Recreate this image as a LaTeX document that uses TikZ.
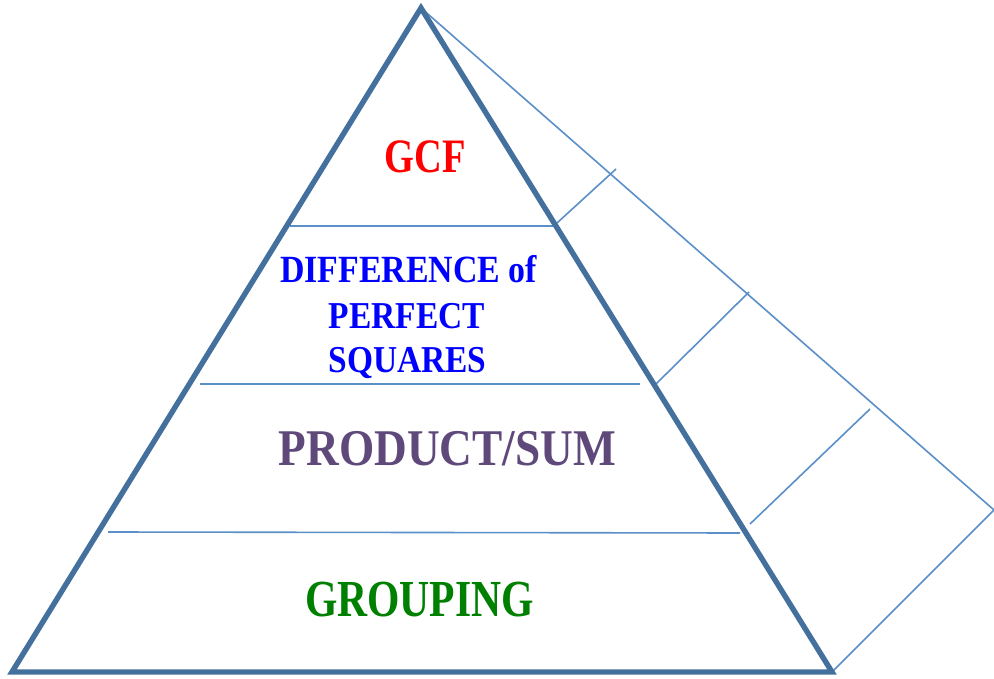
\documentclass[tikz,border=0pt]{standalone}
\usepackage{fontspec}
\newfontfamily\labfont[FakeStretch=0.88]{Liberation Serif}
\newfontfamily\labfontc[FakeStretch=0.8]{Liberation Serif}
\definecolor{edgeblue}{HTML}{43709D}
\definecolor{lineblue}{HTML}{5A8FC8}
\definecolor{gcfred}{HTML}{FF0000}
\definecolor{diffblue}{HTML}{0000FF}
\definecolor{prodpurple}{HTML}{5F497A}
\definecolor{grpgreen}{HTML}{008000}
\tikzset{
  pyredge/.style={draw=edgeblue, line width=5.4pt},
  pyrline/.style={draw=lineblue, line width=1.6pt},
  lab/.style={inner sep=0pt, anchor=base, font=\labfont\bfseries},
  labc/.style={inner sep=0pt, anchor=base, font=\labfontc\bfseries}
}
\begin{document}
\begin{tikzpicture}[x=1pt,y=-1pt]
\useasboundingbox (0,0) rectangle (994,679);
% vertices
\coordinate (apex) at (421,8);
\coordinate (bl) at (12,672);
\coordinate (br) at (832,672);
\coordinate (rv) at (994,510);
% right face
\draw[pyrline] (apex) -- (rv) -- (br);
% level lines
\coordinate (l1a) at (290,226); \coordinate (l1b) at (556,226);
\coordinate (l2a) at (200,384); \coordinate (l2b) at (640,384);
\coordinate (l3a) at (108,532); \coordinate (l3b) at (740,533);
\draw[pyrline] (l1a) -- (l1b);
\draw[pyrline] (l2a) -- (l2b);
\draw[pyrline] (l3a) -- (l3b);
% face lines
\coordinate (f1a) at (557,223); \coordinate (f1b) at (616,169);
\coordinate (f2a) at (655,385); \coordinate (f2b) at (749,292);
\coordinate (f3a) at (750,524); \coordinate (f3b) at (870,409);
\draw[pyrline] (f1a) -- (f1b);
\draw[pyrline] (f2a) -- (f2b);
\draw[pyrline] (f3a) -- (f3b);
% main triangle
\draw[pyredge] (apex) -- (bl) -- (br) -- cycle;
% labels
\node[labc, text=gcfred] (gcf) at (425,173) {\fontsize{48}{52}\selectfont GCF};
\node[lab, text=diffblue] (diff1) at (408.5,283) {\fontsize{38.5}{42}\selectfont DIFFERENCE of};
\node[lab, text=diffblue] (diff2) at (407,328) {\fontsize{38}{42}\selectfont PERFECT};
\node[lab, text=diffblue] (diff3) at (407.5,372) {\fontsize{38}{42}\selectfont SQUARES};
\node[lab, text=prodpurple] (prod) at (447.5,465) {\fontsize{51.5}{55}\selectfont PRODUCT/SUM};
\node[labc, text=grpgreen] (grp) at (419.5,616) {\fontsize{52}{56}\selectfont GROUPING};
\end{tikzpicture}
\end{document}
